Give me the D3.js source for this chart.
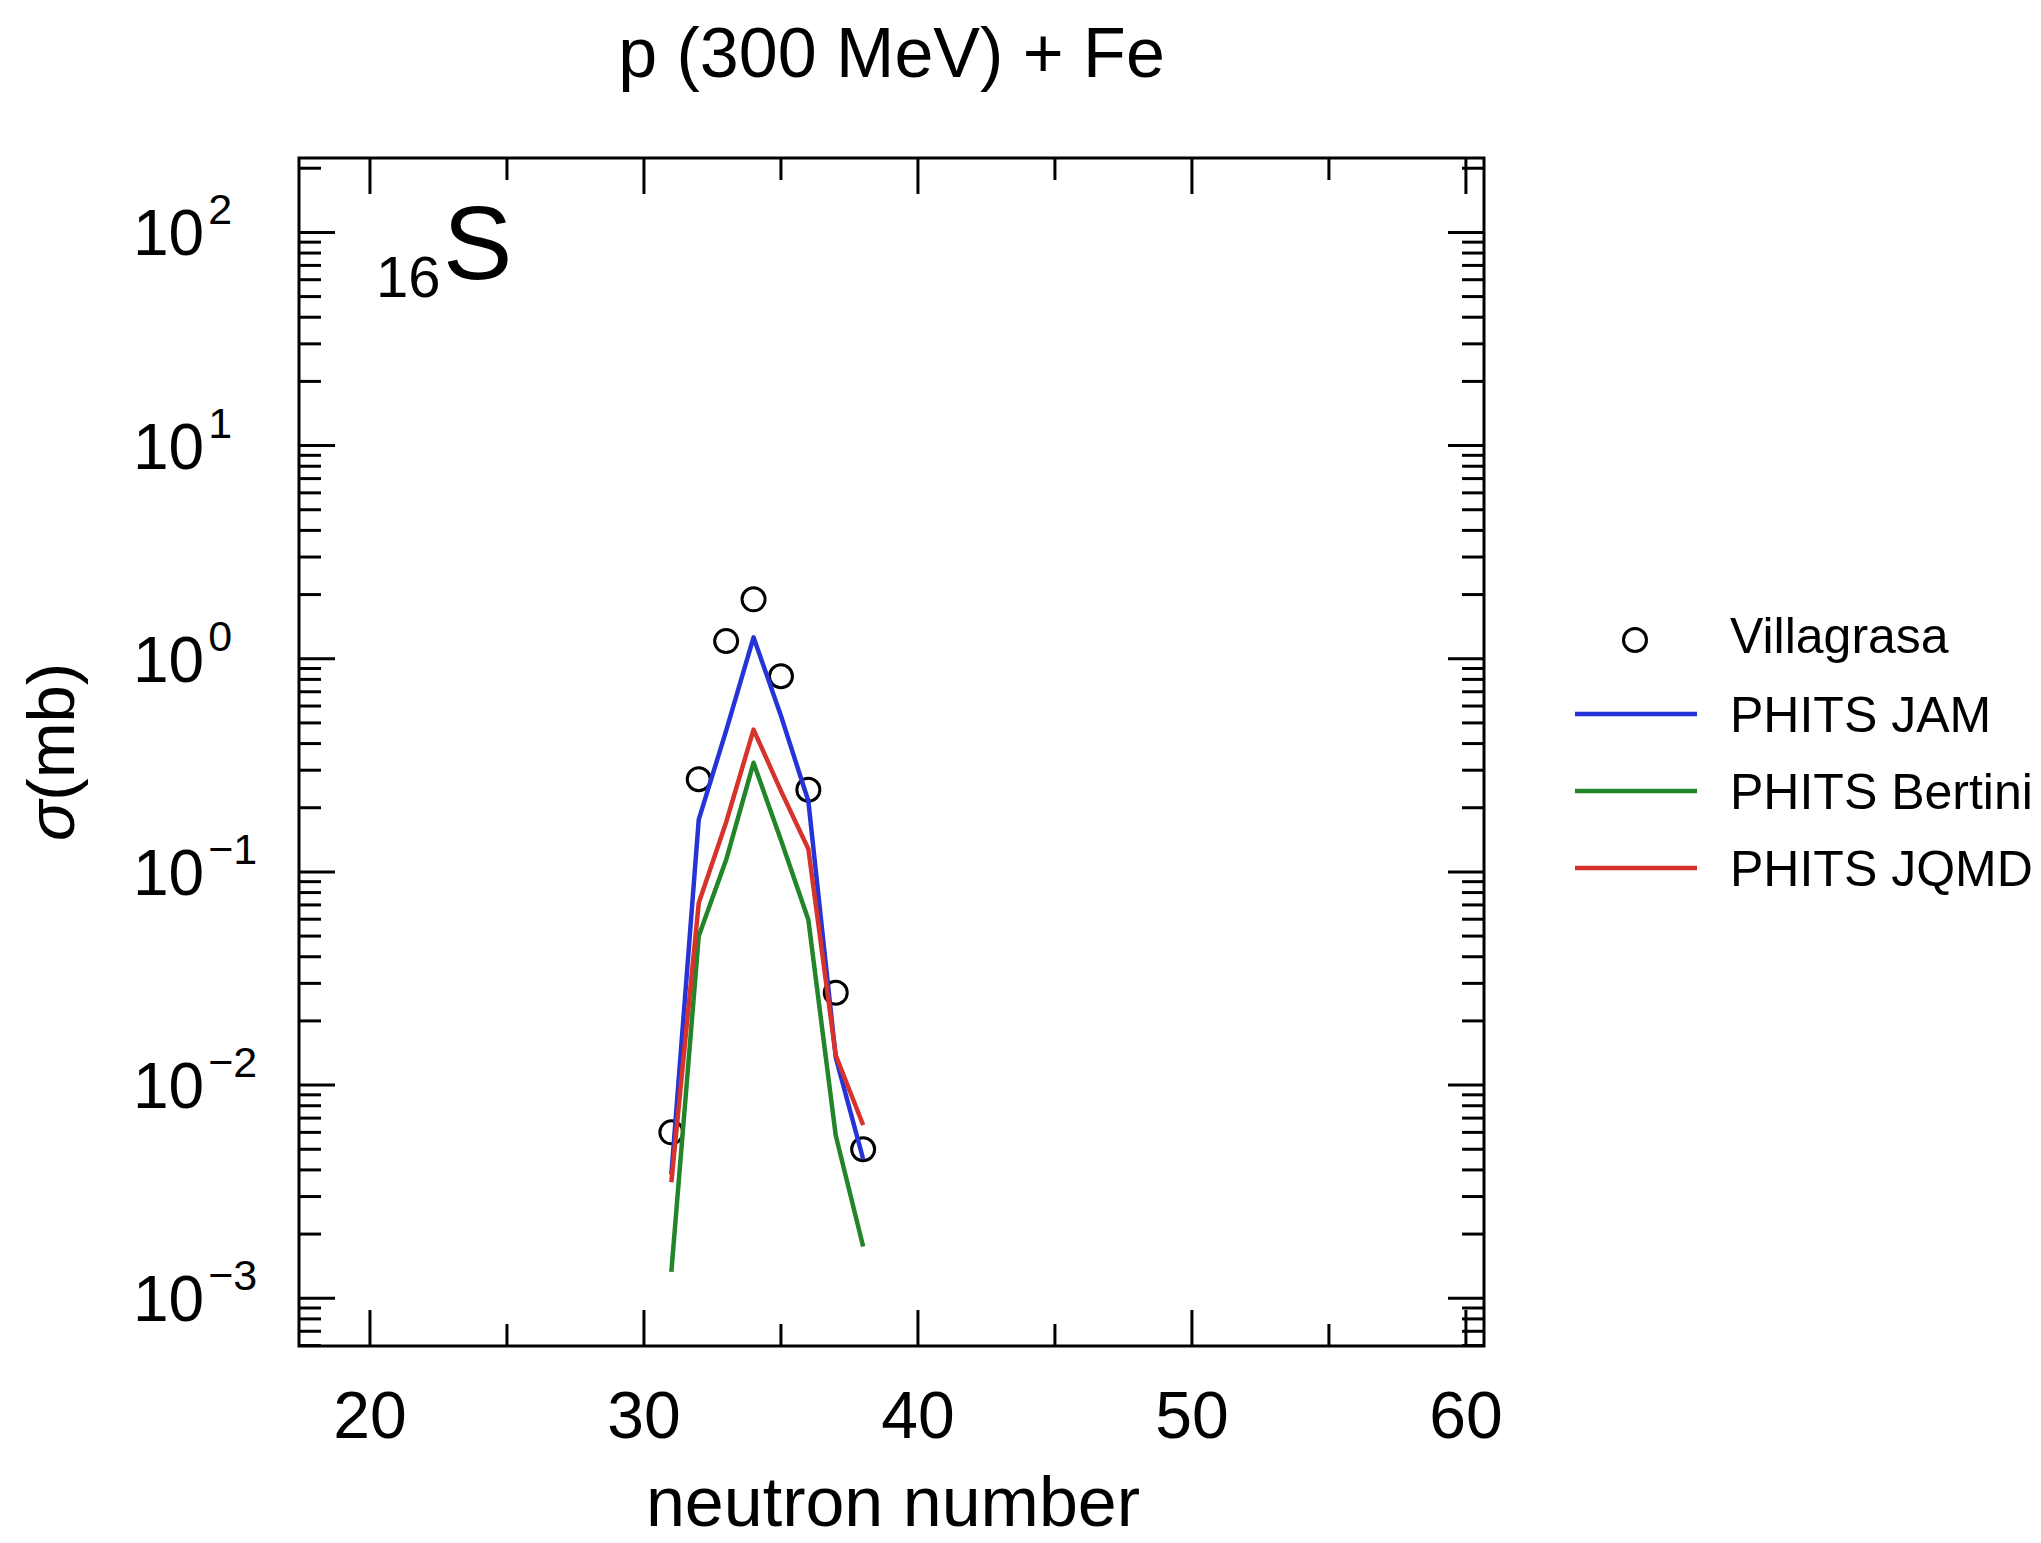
<!DOCTYPE html>
<html>
<head>
<meta charset="utf-8">
<script src="https://cdn.jsdelivr.net/npm/d3@7"></script>
<style>
  html, body { margin: 0; padding: 0; background: #fff; }
  svg { display: block; }
  text { font-family: "Liberation Sans", Arial, Helvetica, sans-serif; fill: #000; }
</style>
</head>
<body>
<svg id="chart" width="2041" height="1543"></svg>
<script>
// Neutron numbers of the sulfur isotopes shown
const neutrons = [31, 32, 33, 34, 35, 36, 37, 38];

// Measured cross sections (mb)
const villagrasa = [0.0060, 0.272, 1.21, 1.90, 0.828, 0.243, 0.0271, 0.0050];

// PHITS model cross sections (mb)
const phitsJAM     = [0.0038, 0.176, 0.46, 1.26, 0.54, 0.215, 0.0135, 0.0045];
const phitsBertini = [0.00133, 0.050, 0.114, 0.325, 0.141, 0.0596, 0.0058, 0.00175];
const phitsJQMD    = [0.0035, 0.0715, 0.171, 0.465, 0.24, 0.128, 0.0138, 0.0065];

// Axis ticks
const xMajorTicks = [20, 30, 40, 50, 60];
const xMinorTicks = [25, 35, 45, 55];
const yExponents  = [-3, -2, -1, 0, 1, 2];

const series = [
  { name: "PHITS JAM",     values: phitsJAM,     color: "#2633d6" },
  { name: "PHITS Bertini", values: phitsBertini, color: "#22852a" },
  { name: "PHITS JQMD",    values: phitsJQMD,    color: "#d6332b" }
];

const svg = d3.select("#chart");
const box = { left: 299, right: 1484, top: 158, bottom: 1346 };

const x = d3.scaleLinear().domain([17.41, 60.66]).range([box.left, box.right]);
const y = d3.scaleLog().domain([Math.pow(10, -3.224), Math.pow(10, 2.349)]).range([box.bottom, box.top]);

// Title
svg.append("text")
  .attr("x", (box.left + box.right) / 2).attr("y", 77)
  .attr("text-anchor", "middle")
  .attr("font-size", 70)
  .text("p (300 MeV) + Fe");

// Clip region for data
svg.append("defs").append("clipPath").attr("id", "plotClip")
  .append("rect")
  .attr("x", box.left).attr("y", box.top)
  .attr("width", box.right - box.left).attr("height", box.bottom - box.top);

const plot = svg.append("g").attr("clip-path", "url(#plotClip)");

// Measured points
plot.selectAll("circle.exp")
  .data(neutrons.map((n, i) => ({ n, v: villagrasa[i] })))
  .join("circle")
  .attr("class", "exp")
  .attr("cx", d => x(d.n))
  .attr("cy", d => y(d.v))
  .attr("r", 11.5)
  .attr("fill", "none")
  .attr("stroke", "#000")
  .attr("stroke-width", 3);

// Model curves
const line = d3.line().x(d => x(d.n)).y(d => y(d.v));
series.forEach(s => {
  plot.append("path")
    .datum(neutrons.map((n, i) => ({ n, v: s.values[i] })))
    .attr("d", line)
    .attr("fill", "none")
    .attr("stroke", s.color)
    .attr("stroke-width", 4.5)
    .attr("stroke-linejoin", "round");
});

// Ticks
const ticks = svg.append("g").attr("stroke", "#000").attr("stroke-width", 3);
const majorLen = 36, minorLen = 22;

function xTick(v, len) {
  ticks.append("line").attr("x1", x(v)).attr("x2", x(v))
    .attr("y1", box.bottom).attr("y2", box.bottom - len);
  ticks.append("line").attr("x1", x(v)).attr("x2", x(v))
    .attr("y1", box.top).attr("y2", box.top + len);
}
xMajorTicks.forEach(v => xTick(v, majorLen));
xMinorTicks.forEach(v => xTick(v, minorLen));

function yTick(v, len) {
  ticks.append("line").attr("y1", y(v)).attr("y2", y(v))
    .attr("x1", box.left).attr("x2", box.left + len);
  ticks.append("line").attr("y1", y(v)).attr("y2", y(v))
    .attr("x1", box.right).attr("x2", box.right - len);
}
const [yLo, yHi] = y.domain();
yExponents.forEach(e => yTick(Math.pow(10, e), majorLen));
for (let e = -4; e <= 2; e++) {
  for (let m = 2; m <= 9; m++) {
    const v = m * Math.pow(10, e);
    if (v > yLo && v < yHi) yTick(v, minorLen);
  }
}

// Frame
svg.append("rect")
  .attr("x", box.left).attr("y", box.top)
  .attr("width", box.right - box.left).attr("height", box.bottom - box.top)
  .attr("fill", "none").attr("stroke", "#000").attr("stroke-width", 3);

// X tick labels
svg.selectAll("text.xl")
  .data(xMajorTicks)
  .join("text")
  .attr("class", "xl")
  .attr("x", d => x(d)).attr("y", 1438)
  .attr("text-anchor", "middle")
  .attr("font-size", 66)
  .text(d => d);

// Y tick labels as powers of ten
yExponents.forEach(e => {
  const t = svg.append("text")
    .attr("x", 133).attr("y", y(Math.pow(10, e)) + 23)
    .attr("font-size", 64);
  t.append("tspan").text("10");
  t.append("tspan")
    .attr("font-size", 43)
    .attr("dx", 4)
    .attr("dy", -31)
    .text(e < 0 ? "\u2212" + Math.abs(e) : String(e));
});

// Axis titles
svg.append("text")
  .attr("x", 893).attr("y", 1526)
  .attr("text-anchor", "middle")
  .attr("font-size", 70)
  .text("neutron number");

const yTitle = svg.append("text")
  .attr("transform", "translate(74,752) rotate(-90)")
  .attr("text-anchor", "middle")
  .attr("font-size", 67);
yTitle.append("tspan").attr("font-style", "italic").text("\u03c3");
yTitle.append("tspan").text("(mb)");

// Element label inside the frame
const elem = svg.append("g");
elem.append("text").attr("x", 376).attr("y", 297).attr("font-size", 58).text("16");
elem.append("text").attr("x", 443).attr("y", 279).attr("font-size", 104).text("S");

// Legend
const legend = svg.append("g");
legend.append("circle")
  .attr("cx", 1635).attr("cy", 640).attr("r", 11.5)
  .attr("fill", "none").attr("stroke", "#000").attr("stroke-width", 3);
legend.append("text")
  .attr("x", 1730).attr("y", 653)
  .attr("font-size", 50)
  .text("Villagrasa");
series.forEach((s, i) => {
  const cy = 714 + i * 77;
  legend.append("line")
    .attr("x1", 1575).attr("x2", 1697)
    .attr("y1", cy).attr("y2", cy)
    .attr("stroke", s.color).attr("stroke-width", 4.5);
  legend.append("text")
    .attr("x", 1730).attr("y", cy + 18)
    .attr("font-size", 50)
    .text(s.name);
});
</script>
</body>
</html>
